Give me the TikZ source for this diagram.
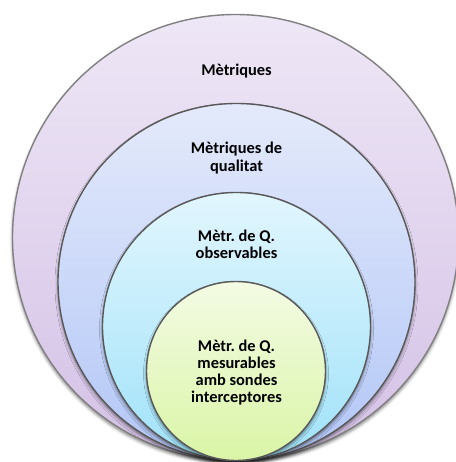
\documentclass[tikz,border=0pt]{standalone}
\usepackage{fontspec}
\setmainfont{Carlito}
\usetikzlibrary{shadows.blur}
\frenchspacing
\begin{document}
\begin{tikzpicture}[x=1bp,y=-1bp,
  ring/.style={circle, inner sep=0pt, draw=black!65, line width=1.4bp,
    blur shadow={shadow xshift=0bp, shadow yshift=-2.5bp, shadow blur radius=3bp, shadow opacity=50}},
  label/.style={align=center, text=black, font=\bfseries\fontsize{16.4bp}{17.3bp}\selectfont}]
  \useasboundingbox (0,0) rectangle (456,462);
  % nested sets, all touching at the bottom
  \node[ring, minimum size=446bp, top color={rgb,255:red,238;green,231;blue,246}, bottom color={rgb,255:red,212;green,193;blue,230}, draw=black!50]
    (metr) at (235.5,237.5) {};
  \node[ring, minimum size=357bp, top color={rgb,255:red,228;green,234;blue,251}, bottom color={rgb,255:red,178;green,198;blue,246}]
    (qual) at (236.5,282) {};
  \node[ring, minimum size=268bp, top color={rgb,255:red,226;green,246;blue,254}, bottom color={rgb,255:red,160;green,226;blue,249}]
    (obs) at (236.5,326.5) {};
  \node[ring, minimum size=179bp, top color={rgb,255:red,243;green,251;blue,228}, bottom color={rgb,255:red,218;green,245;blue,166}]
    (mes) at (236,371) {};
  % labels
  \node[label] (tmetr) at (236.5,71) {Mètriques};
  \node[label] (tqual) at (236.5,158) {Mètriques de\\qualitat};
  \node[label] (tobs) at (236.5,244.5) {Mètr. de Q.\\observables};
  \node[label] (tmes) at (236.5,372.5) {Mètr. de Q.\\mesurables\\amb sondes\\interceptores};
\end{tikzpicture}
\end{document}
